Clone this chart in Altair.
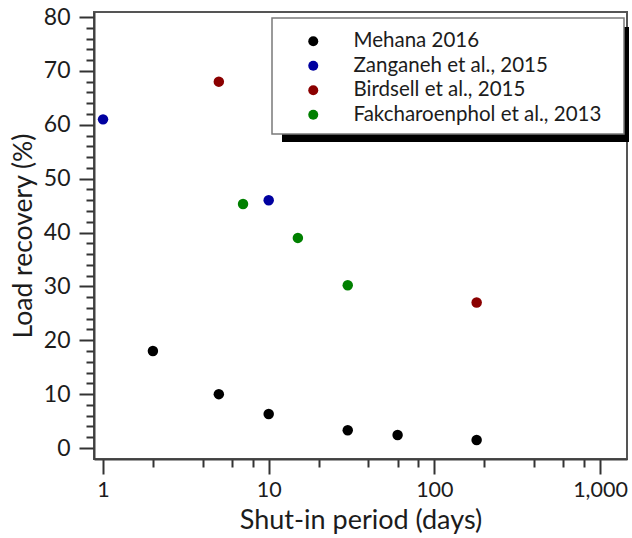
import altair as alt
import pandas as pd

# Load recovery measurements by study
studies = ["Mehana 2016", "Zanganeh et al., 2015", "Birdsell et al., 2015",
           "Fakcharoenphol et al., 2013"]
colors = ["#000000", "#0000a0", "#8b0000", "#008000"]

mehana_days = [2, 5, 10, 30, 60, 180]
mehana_rec = [18, 10, 6.3, 3.3, 2.4, 1.5]
zanganeh_days = [1, 10]
zanganeh_rec = [61, 46]
birdsell_days = [5, 180]
birdsell_rec = [68, 27]
fak_days = [7, 15, 30]
fak_rec = [45.3, 39, 30.2]

x_major = [1, 10, 100, 1000]
x_ticks = [1, 2, 4, 6, 8, 10, 20, 40, 60, 80, 100, 200, 400, 600, 800, 1000]
y_ticks = list(range(0, 82, 2))

rows = []
for name, xs, ys in zip(studies,
                        [mehana_days, zanganeh_days, birdsell_days, fak_days],
                        [mehana_rec, zanganeh_rec, birdsell_rec, fak_rec]):
    for xv, yv in zip(xs, ys):
        rows.append({"study": name, "days": xv, "recovery": yv})
df = pd.DataFrame(rows)

FONT = "Lato"
TXT = "#1c1c1c"

major_test = "indexof([1, 10, 100, 1000], datum.value) >= 0"

x_axis = alt.Axis(
    values=x_ticks,
    title="Shut-in period (days)",
    titleFont=FONT, titleFontSize=27, titleFontWeight="normal", titleColor=TXT,
    titlePadding=7,
    labelExpr=f"{major_test} ? format(datum.value, ',') : ''",
    labelFont=FONT, labelFontSize=21.5, labelColor=TXT, labelPadding=5,
    labelFlush=False, labelOverlap=False,
    tickSize=alt.condition(major_test, alt.value(15), alt.value(8)),
    tickColor="#333333", tickWidth=2,
    domainColor="#404040", domainWidth=2,
    grid=False,
)
y_axis = alt.Axis(
    values=y_ticks,
    title="Load recovery (%)",
    titleFont=FONT, titleFontSize=26.5, titleFontWeight="normal", titleColor=TXT,
    titlePadding=6,
    labelExpr="datum.value % 10 == 0 ? datum.value : ''",
    labelFont=FONT, labelFontSize=23, labelColor=TXT, labelPadding=9,
    labelOverlap=False,
    tickSize=alt.condition("datum.value % 10 == 0", alt.value(15), alt.value(8)),
    tickColor="#333333", tickWidth=2,
    domainColor="#404040", domainWidth=2,
    grid=False,
)

x_scale = alt.Scale(type="log", domain=[0.882, 1455], nice=False)
y_scale = alt.Scale(domain=[-2.04, 80.93], nice=False, zero=False)

points = alt.Chart(df).mark_circle(size=110, opacity=1).encode(
    x=alt.X("days:Q", scale=x_scale, axis=x_axis),
    y=alt.Y("recovery:Q", scale=y_scale, axis=y_axis),
    color=alt.Color(
        "study:N",
        scale=alt.Scale(domain=studies, range=colors),
        legend=alt.Legend(
            title=None, orient="none", legendX=209, legendY=19,
            symbolType="circle", symbolSize=100, symbolStrokeWidth=0,
            labelFont=FONT, labelFontSize=20.5, labelColor=TXT, labelLimit=400,
            labelOffset=30, rowPadding=3.5, padding=0,
        ),
    ),
)

box_src = pd.DataFrame({"k": [0]})
# drop shadow behind the legend box
shadow = alt.Chart(box_src).mark_rect(color="#000000").encode(
    x=alt.value(188), x2=alt.value(535), y=alt.value(15), y2=alt.value(130)
)
# legend box
box = alt.Chart(box_src).mark_rect(
    fill="#ffffff", stroke="#7a7a7a", strokeWidth=1.5
).encode(
    x=alt.value(178), x2=alt.value(530), y=alt.value(6), y2=alt.value(122)
)

chart = alt.layer(shadow, box, points).properties(
    width=533, height=447,
    autosize=alt.AutoSizeParams(type="none"),
    padding={"left": 94, "top": 12, "right": 5, "bottom": 79},
    background="#ffffff",
).configure_view(stroke="#555555", strokeWidth=2)

chart.save("out.html", embed_options={"renderer": "svg", "actions": False})
